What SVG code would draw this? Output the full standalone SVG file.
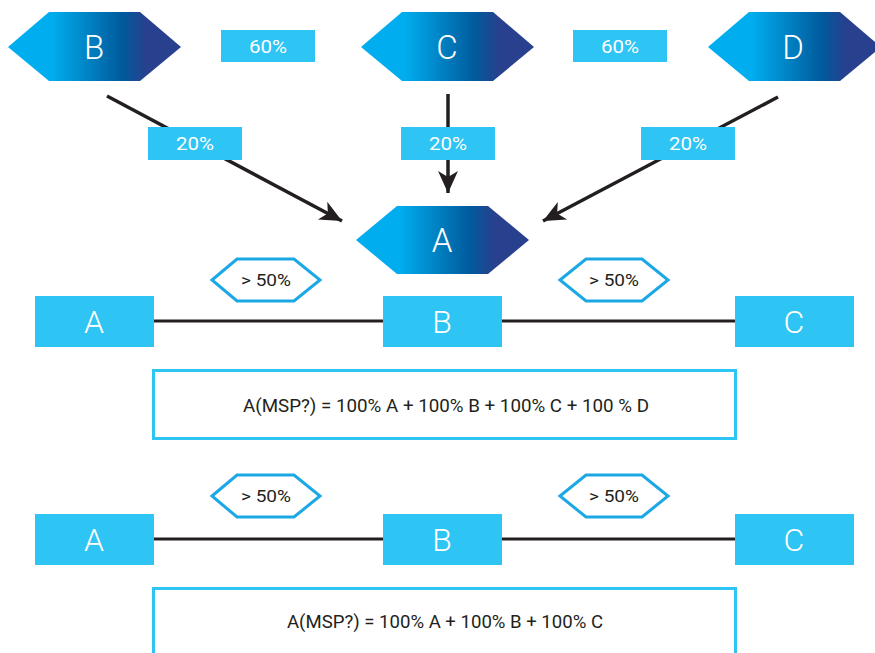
<svg xmlns="http://www.w3.org/2000/svg" width="875" height="653" viewBox="0 0 875 653">
<defs>
  <linearGradient id="hexGrad" x1="0" y1="0" x2="1" y2="0">
    <stop offset="0" stop-color="#00aeef"/>
    <stop offset="0.25" stop-color="#00aeef"/>
    <stop offset="0.66" stop-color="#005a9c"/>
    <stop offset="0.8" stop-color="#28408e"/>
    <stop offset="1" stop-color="#28408e"/>
  </linearGradient>
  <marker id="arrow" markerUnits="userSpaceOnUse" markerWidth="26" markerHeight="26" viewBox="-24 -12 26 24" refX="0" refY="0" orient="auto">
    <path d="M0,0 L-22,-10 L-16,0 L-22,10 Z" fill="#231f20"/>
  </marker>
  <style>
    .hex { fill: url(#hexGrad); }
    .hexlabel { font-family: Roboto, "Liberation Sans", sans-serif; font-size: 33px; font-weight: 300; fill: #ffffff; text-anchor: middle; }
    .pct { fill: #2ec4f3; }
    .pcttext { font-family: Roboto, "Liberation Sans", sans-serif; font-size: 18px; fill: #ffffff; text-anchor: middle; }
    .box { fill: #2ec4f3; }
    .boxlabel { font-family: Roboto, "Liberation Sans", sans-serif; font-size: 32px; font-weight: 300; fill: #ffffff; text-anchor: middle; }
    .ohex { fill: #ffffff; stroke: #1ca8e4; stroke-width: 3; }
    .ohextext { font-family: Roboto, "Liberation Sans", sans-serif; font-size: 17px; fill: #231f20; text-anchor: middle; }
    .arrowline { stroke: #231f20; stroke-width: 3.5; fill: none; marker-end: url(#arrow); }
    .link { stroke: #231f20; stroke-width: 3; fill: none; }
    .formula { fill: #ffffff; stroke: #2ec4f3; stroke-width: 3; }
    .formulatext { font-family: Roboto, "Liberation Sans", sans-serif; font-size: 19px; fill: #231f20; text-anchor: middle; }
  </style>
</defs>
<rect width="875" height="653" fill="#ffffff"/>

<g id="connectors">
  <line class="arrowline" x1="107" y1="96" x2="342" y2="221"/>
  <line class="arrowline" x1="448" y1="94" x2="448" y2="193"/>
  <line class="arrowline" x1="778" y1="97" x2="543" y2="221"/>
  <line class="link" x1="154" y1="321" x2="383" y2="321"/>
  <line class="link" x1="502" y1="321" x2="735" y2="321"/>
  <line class="link" x1="154" y1="539" x2="383" y2="539"/>
  <line class="link" x1="502" y1="539" x2="735" y2="539"/>
</g>

<g id="node-B-top">
  <polygon class="hex" points="8,47 49,12 140,12 181,47 140,81 49,81"/>
  <text class="hexlabel" x="94" y="59">B</text>
</g>
<g id="node-C-top">
  <polygon class="hex" points="361,47 402,12 493,12 534,47 493,81 402,81"/>
  <text class="hexlabel" x="447" y="59">C</text>
</g>
<g id="node-D-top">
  <polygon class="hex" points="708,47 749,12 840,12 881,47 840,81 749,81"/>
  <text class="hexlabel" x="793" y="59">D</text>
</g>
<g id="node-A-hex">
  <polygon class="hex" points="356,240 397,206 488,206 529,240 488,274 397,274"/>
  <text class="hexlabel" x="442" y="252">A</text>
</g>

<g id="label-60-left">
  <rect class="pct" x="221" y="30" width="94" height="32"/>
  <text class="pcttext" x="268" y="53" textLength="38" lengthAdjust="spacingAndGlyphs">60%</text>
</g>
<g id="label-60-right">
  <rect class="pct" x="573" y="30" width="94" height="32"/>
  <text class="pcttext" x="620" y="53" textLength="38" lengthAdjust="spacingAndGlyphs">60%</text>
</g>
<g id="label-20-left">
  <rect class="pct" x="148" y="127" width="94" height="33"/>
  <text class="pcttext" x="195" y="150" textLength="38" lengthAdjust="spacingAndGlyphs">20%</text>
</g>
<g id="label-20-mid">
  <rect class="pct" x="401" y="127" width="94" height="33"/>
  <text class="pcttext" x="448" y="150" textLength="38" lengthAdjust="spacingAndGlyphs">20%</text>
</g>
<g id="label-20-right">
  <rect class="pct" x="641" y="127" width="94" height="33"/>
  <text class="pcttext" x="688" y="150" textLength="38" lengthAdjust="spacingAndGlyphs">20%</text>
</g>

<g id="gt50-1a">
  <polygon class="ohex" points="212,280 237,259 294,259 320,280 294,301 237,301"/>
  <text class="ohextext" x="266" y="286" textLength="50" lengthAdjust="spacingAndGlyphs">&gt; 50%</text>
</g>
<g id="gt50-1b">
  <polygon class="ohex" points="560,280 586,259 642,259 668,280 642,301 586,301"/>
  <text class="ohextext" x="614" y="286" textLength="50" lengthAdjust="spacingAndGlyphs">&gt; 50%</text>
</g>

<g id="row1-A">
  <rect class="box" x="35" y="296" width="119" height="51"/>
  <text class="boxlabel" x="94" y="333">A</text>
</g>
<g id="row1-B">
  <rect class="box" x="383" y="296" width="119" height="51"/>
  <text class="boxlabel" x="442" y="333">B</text>
</g>
<g id="row1-C">
  <rect class="box" x="735" y="296" width="119" height="51"/>
  <text class="boxlabel" x="794" y="333">C</text>
</g>

<g id="formula-1">
  <rect class="formula" x="153.5" y="370.5" width="582" height="68"/>
  <text class="formulatext" x="446" y="412" textLength="406" lengthAdjust="spacingAndGlyphs">A(MSP?) = 100% A + 100% B + 100% C + 100 % D</text>
</g>

<g id="gt50-2a">
  <polygon class="ohex" points="212,496 237,475 294,475 320,496 294,517 237,517"/>
  <text class="ohextext" x="266" y="502" textLength="50" lengthAdjust="spacingAndGlyphs">&gt; 50%</text>
</g>
<g id="gt50-2b">
  <polygon class="ohex" points="560,496 586,475 642,475 668,496 642,517 586,517"/>
  <text class="ohextext" x="614" y="502" textLength="50" lengthAdjust="spacingAndGlyphs">&gt; 50%</text>
</g>

<g id="row2-A">
  <rect class="box" x="35" y="514" width="119" height="51"/>
  <text class="boxlabel" x="94" y="551">A</text>
</g>
<g id="row2-B">
  <rect class="box" x="383" y="514" width="119" height="51"/>
  <text class="boxlabel" x="442" y="551">B</text>
</g>
<g id="row2-C">
  <rect class="box" x="735" y="514" width="119" height="51"/>
  <text class="boxlabel" x="794" y="551">C</text>
</g>

<g id="formula-2">
  <rect class="formula" x="153.5" y="588.5" width="582" height="80"/>
  <text class="formulatext" x="445" y="628" textLength="316" lengthAdjust="spacingAndGlyphs">A(MSP?) = 100% A + 100% B + 100% C</text>
</g>
</svg>
